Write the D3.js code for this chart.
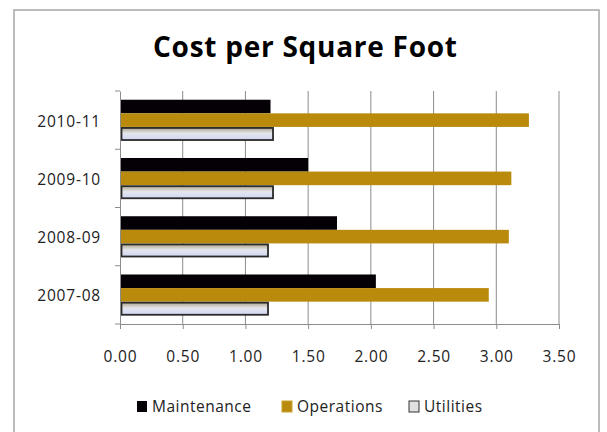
<!DOCTYPE html>
<html><head><meta charset="utf-8">
<script src="https://cdn.jsdelivr.net/npm/d3@7"></script>
<style>body{margin:0;background:#fff}svg{display:block}</style>
</head><body>
<script>
const categories = ["2010-11", "2009-10", "2008-09", "2007-08"];
const seriesNames = ["Maintenance", "Operations", "Utilities"];
const maintenance = [1.20, 1.50, 1.73, 2.04];
const operations = [3.26, 3.12, 3.10, 2.94];
const utilities = [1.22, 1.22, 1.18, 1.18];
const xTicks = [0, 0.5, 1.0, 1.5, 2.0, 2.5, 3.0, 3.5];

const W = 607, H = 432;
const svg = d3.select("body").append("svg").attr("width", W).attr("height", H);
const defs = svg.append("defs");
const grad = defs.append("linearGradient").attr("id", "ug").attr("x1", 0).attr("y1", 0).attr("x2", 0).attr("y2", 1);
grad.append("stop").attr("offset", "0%").attr("stop-color", "#ada48a");
grad.append("stop").attr("offset", "45%").attr("stop-color", "#e4e6ec");
grad.append("stop").attr("offset", "100%").attr("stop-color", "#cfd6f4");

svg.append("rect").attr("x", 14).attr("y", 10).attr("width", 585).attr("height", 440)
  .attr("fill", "#fff").attr("stroke", "#a6a6a6").attr("stroke-width", 1.5);

const FONT = "'Open Sans', sans-serif";
svg.append("text").attr("x", 305).attr("y", 57).attr("text-anchor", "middle")
  .attr("font-family", FONT).attr("font-weight", "bold")
  .attr("font-size", 28).attr("fill", "#000").text("Cost per Square Foot")
  .attr("textLength", 304).attr("lengthAdjust", "spacing");

const x = d3.scaleLinear().domain([0, 3.5]).range([120, 559]);
const y = d3.scaleBand().domain(categories).range([91, 324]).paddingInner(0.3).paddingOuter(0.15);
const ys = d3.scaleBand().domain(seriesNames).range([0, y.bandwidth()]);

// gridlines
svg.append("g").selectAll("line").data(xTicks.slice(1)).join("line")
  .attr("x1", d => x(d)).attr("x2", d => x(d)).attr("y1", 91).attr("y2", 324)
  .attr("stroke", "#8c8c8c").attr("stroke-width", 1);

const data = seriesNames.map((s, i) => ({name: s, values: [maintenance, operations, utilities][i]}));
const fills = {Maintenance: "#050005", Operations: "#b98a0b", Utilities: "url(#ug)"};

data.forEach(s => {
  const u = s.name === "Utilities";
  svg.append("g").selectAll("rect").data(s.values).join("rect")
    .attr("x", x(0) + (u ? 1.5 : 0))
    .attr("y", (d, i) => y(categories[i]) + ys(s.name) + (u ? 1 : 0))
    .attr("width", d => x(d) - x(0) - (u ? 1.5 : 0))
    .attr("height", ys.bandwidth() - (u ? 1.5 : 0))
    .attr("fill", fills[s.name])
    .attr("stroke", u ? "#2a2a2a" : "none")
    .attr("stroke-width", 1.8);
});

// x axis
const xAxis = d3.axisBottom(x).tickValues(xTicks).tickFormat(d3.format(".2f")).tickSize(5).tickSizeOuter(0);
const gx = svg.append("g").attr("transform", "translate(0,324)").call(xAxis);
gx.select(".domain").attr("stroke", "#8c8c8c");
gx.selectAll(".tick line").attr("stroke", "#8c8c8c");
gx.selectAll(".tick text").attr("font-family", FONT).attr("font-size", 15.5)
  .attr("letter-spacing", "0.8px").attr("fill", "#222").attr("y", 38).attr("dy", null);

// y axis
const yAxis = d3.axisLeft(y).tickSize(0).tickSizeOuter(0);
const gy = svg.append("g").attr("transform", "translate(120,0)").call(yAxis);
gy.select(".domain").attr("stroke", "#8c8c8c");
gy.selectAll(".tick text").attr("font-family", FONT).attr("font-size", 15.5)
  .attr("letter-spacing", "0.8px").attr("fill", "#222").attr("x", -19).attr("dy", "6.5");
// boundary tick marks between categories
const bounds = [91].concat(categories.map(c => y(c) + y.bandwidth() + y.step() * y.paddingInner() / 2));
bounds[bounds.length - 1] = 324;
svg.append("g").selectAll("line").data(bounds).join("line")
  .attr("x1", 115).attr("x2", 120).attr("y1", d => d).attr("y2", d => d)
  .attr("stroke", "#8c8c8c");

// legend
const legendX = [136, 281, 408];
const lg = svg.append("g").selectAll("g").data(seriesNames).join("g")
  .attr("transform", (d, i) => `translate(${legendX[i]},401)`);
lg.append("rect").attr("x", 1).attr("width", 10).attr("height", 11)
  .attr("fill", d => d === "Operations" ? "#b98a0b" : d === "Utilities" ? "#e0e0e0" : "#050005")
  .attr("stroke", d => d === "Utilities" ? "#333" : d === "Operations" ? "#caa030" : "none").attr("stroke-width", 1);
lg.append("text").attr("x", 16).attr("y", 11).attr("font-family", FONT)
  .attr("font-size", 15.5).attr("letter-spacing", "0.5px").attr("fill", "#222").text(d => d);
</script>
</body></html>
